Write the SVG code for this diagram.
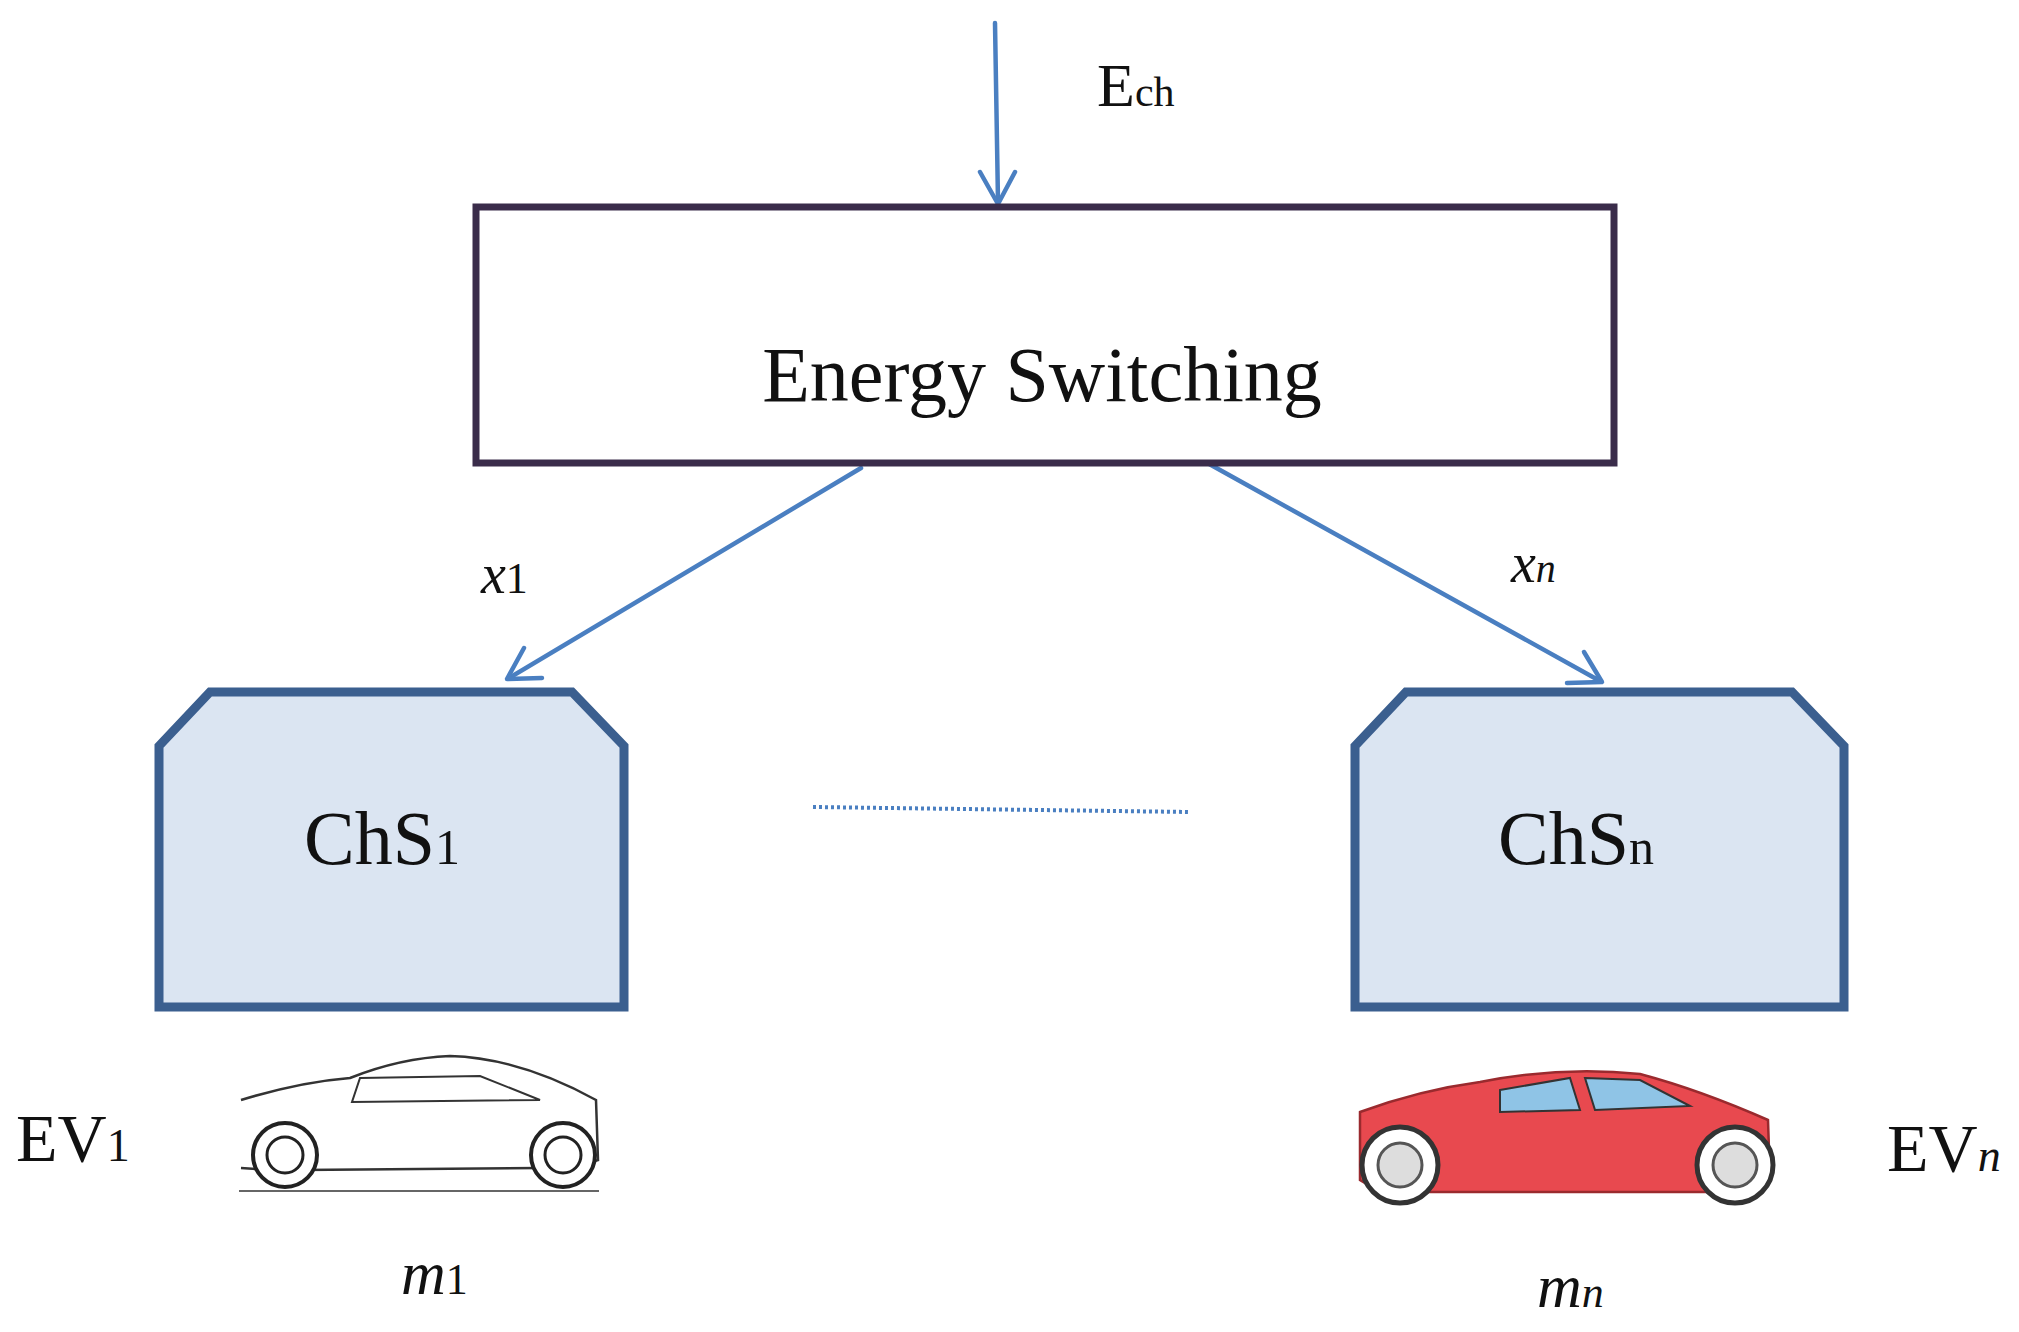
<svg xmlns="http://www.w3.org/2000/svg" width="2019" height="1332" viewBox="0 0 2019 1332">
<style>
text{font-family:"Liberation Serif","DejaVu Serif",serif;fill:#111}
.conn{stroke:#4a7fc1;stroke-width:4.5;fill:none;stroke-linecap:round;stroke-linejoin:round}
.chs{fill:#dbe5f2;stroke:#3b5f8f;stroke-width:9}
</style>
<rect width="2019" height="1332" fill="#fff"/>
<g id="connectors">
<line class="conn" x1="995" y1="23" x2="998" y2="202"/>
<polyline class="conn" points="980,172 998,204 1015,172"/>
<line class="conn" x1="861" y1="468" x2="509" y2="678"/>
<polyline class="conn" points="542,678 507,679 524,648"/>
<line class="conn" x1="1193" y1="455" x2="1600" y2="681"/>
<polyline class="conn" points="1584,652 1602,682 1567,683"/>
<line x1="813" y1="807" x2="1190" y2="812" stroke="#4a7fc1" stroke-width="4" stroke-dasharray="3,3"/>
</g>
<text x="1097" y="106" font-size="62">E<tspan font-size="42">ch</tspan></text>
<g id="energy-switching">
<rect x="476" y="207" width="1138" height="256" fill="#fff" stroke="#3a2c4a" stroke-width="7"/>
<text x="1042" y="401" font-size="78" text-anchor="middle">Energy Switching</text>
</g>
<text x="481" y="593" font-size="56" font-style="italic">x<tspan font-style="normal" font-size="44">1</tspan></text>
<text x="1511" y="582" font-size="56" font-style="italic">x<tspan font-size="40">n</tspan></text>
<g id="chs1">
<path class="chs" d="M159,746 L210,692 L572,692 L624,746 L624,1007 L159,1007 Z"/>
<text x="382" y="864" font-size="76" text-anchor="middle">ChS<tspan font-size="50">1</tspan></text>
</g>
<g id="chsn">
<path class="chs" d="M1355,746 L1406,692 L1792,692 L1844,746 L1844,1007 L1355,1007 Z"/>
<text x="1576" y="864" font-size="76" text-anchor="middle">ChS<tspan font-size="50">n</tspan></text>
</g>
<g id="ev1">
<text x="16" y="1161" font-size="68">EV<tspan font-size="46">1</tspan></text>
<path d="M241,1100 Q300,1082 350,1078 Q400,1058 450,1056 Q520,1058 596,1100 L598,1160 L572,1168 M540,1168 L300,1170 M270,1170 L241,1168 Z" fill="#fff" stroke="#333" stroke-width="2.5"/>
<path d="M360,1078 L480,1076 L540,1100 L352,1102 Z" fill="none" stroke="#333" stroke-width="2"/>
<line x1="239" y1="1191" x2="599" y2="1191" stroke="#666" stroke-width="2"/>
<circle cx="285" cy="1155" r="32" fill="#fff" stroke="#222" stroke-width="4"/>
<circle cx="285" cy="1155" r="18" fill="none" stroke="#222" stroke-width="3"/>
<circle cx="563" cy="1155" r="32" fill="#fff" stroke="#222" stroke-width="4"/>
<circle cx="563" cy="1155" r="18" fill="none" stroke="#222" stroke-width="3"/>
<text x="401" y="1294" font-size="62" font-style="italic">m<tspan font-style="normal" font-size="44">1</tspan></text>
</g>
<g id="evn">
<text x="1887" y="1171" font-size="68">EV<tspan font-size="46" font-style="italic">n</tspan></text>
<path d="M1360,1112 Q1420,1090 1480,1082 Q1560,1066 1640,1074 Q1700,1090 1768,1120 L1770,1180 L1740,1192 L1380,1192 L1360,1180 Z" fill="#e8494f" stroke="#9a2a2e" stroke-width="2.5"/>
<path d="M1500,1090 L1570,1078 L1580,1110 L1500,1112 Z M1585,1078 L1640,1080 L1690,1106 L1595,1110 Z" fill="#8fc4e6" stroke="#333" stroke-width="2"/>
<circle cx="1400" cy="1165" r="38" fill="#fff" stroke="#333" stroke-width="5"/>
<circle cx="1400" cy="1165" r="22" fill="#ddd" stroke="#555" stroke-width="3"/>
<circle cx="1735" cy="1165" r="38" fill="#fff" stroke="#333" stroke-width="5"/>
<circle cx="1735" cy="1165" r="22" fill="#ddd" stroke="#555" stroke-width="3"/>
<text x="1537" y="1307" font-size="62" font-style="italic">m<tspan font-size="44">n</tspan></text>
</g>
</svg>
